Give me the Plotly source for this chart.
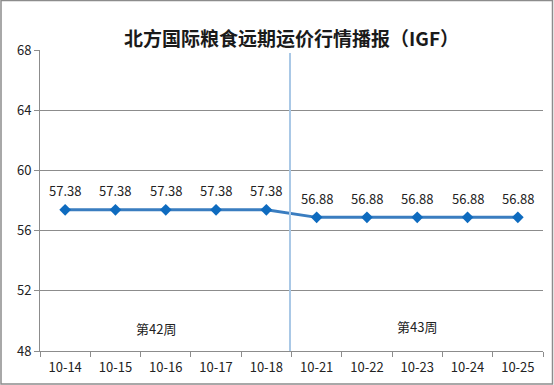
import plotly.graph_objects as go

dates = ["10-14", "10-15", "10-16", "10-17", "10-18", "10-21", "10-22", "10-23", "10-24", "10-25"]
prices = [57.38, 57.38, 57.38, 57.38, 57.38, 56.88, 56.88, 56.88, 56.88, 56.88]
y_ticks = [48, 52, 56, 60, 64, 68]
week_labels = ["第42周", "第43周"]

FONT = "Noto Sans CJK SC"
W, H = 554, 385
L, R, T, B = 40, 11, 50, 34
pw, ph = W - L - R, H - T - B

xs = list(range(len(dates)))

fig = go.Figure()
fig.add_trace(go.Scatter(
    x=xs, y=prices,
    mode="lines+markers",
    line=dict(color="#3A7DC0", width=3),
    marker=dict(symbol="diamond", size=9, color="#0E6BBF"),
    hoverinfo="skip",
))

def px2paper_x(px):
    return (px - L) / pw

def px2paper_y(py):
    return (H - B - py) / ph

shapes = [
    dict(type="rect", xref="paper", yref="paper",
         x0=px2paper_x(1), x1=px2paper_x(552.5), y0=px2paper_y(384), y1=px2paper_y(0.5),
         line=dict(color="#8C8C8C", width=1.5), fillcolor="rgba(0,0,0,0)", layer="below"),
    dict(type="line", xref="x", yref="y", x0=4.47, x1=4.47, y0=48, y1=67.8,
         line=dict(color="#A9C8E6", width=2)),
]

annotations = [
    dict(x=x, y=v, xref="x", yref="y", text=f"{v:.2f}", showarrow=False, yshift=19,
         font=dict(family=FONT, size=13, color="#222222"))
    for x, v in zip(xs, prices)
]
annotations += [
    dict(x=1.8, y=49.5, xref="x", yref="y", text=week_labels[0], showarrow=False,
         font=dict(family=FONT, size=13, color="#222222")),
    dict(x=7.0, y=49.65, xref="x", yref="y", text=week_labels[1], showarrow=False,
         font=dict(family=FONT, size=13, color="#222222")),
    dict(x=0.5, y=px2paper_y(22), xref="paper", yref="paper",
         text="<b>北方国际粮食远期运价行情播报（IGF）</b>", showarrow=False,
         font=dict(family=FONT, size=19, color="#1a1a1a")),
]

fig.update_layout(
    width=W, height=H,
    margin=dict(l=L, r=R, t=T, b=B, autoexpand=False),
    paper_bgcolor="white", plot_bgcolor="white",
    showlegend=False,
    shapes=shapes,
    annotations=annotations,
    xaxis=dict(
        type="category", automargin=False,
        tickmode="array", tickvals=xs, ticktext=dates,
        range=[-0.5, len(dates) - 0.5],
        tickson="boundaries", ticks="outside", ticklen=5, tickcolor="#8C8C8C",
        ticklabelstandoff=4,
        showline=True, linecolor="#8C8C8C", linewidth=1,
        showgrid=False, zeroline=False,
        tickfont=dict(family=FONT, size=13, color="#222222"),
    ),
    yaxis=dict(
        range=[48, 68], tickvals=y_ticks, automargin=False,
        ticks="outside", ticklen=5, tickcolor="#8C8C8C",
        showline=True, linecolor="#8C8C8C", linewidth=1,
        showgrid=True, gridcolor="#8C8C8C", gridwidth=1,
        zeroline=False,
        tickfont=dict(family=FONT, size=13, color="#222222"),
    ),
)

fig.write_html("out.html")
